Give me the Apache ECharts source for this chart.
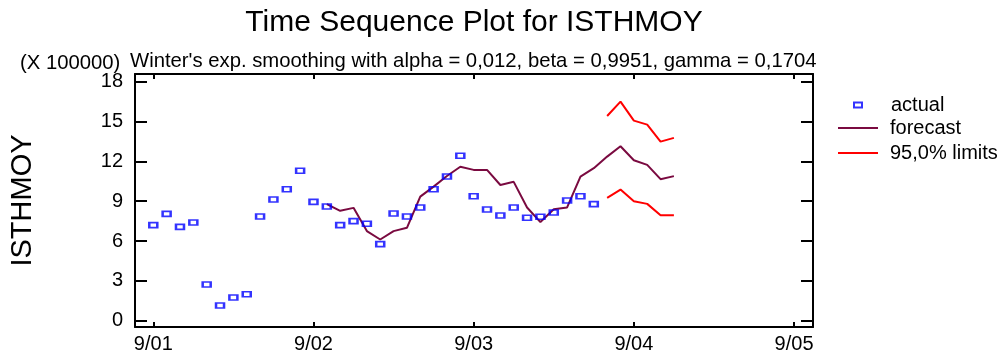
<!DOCTYPE html>
<html>
<head>
<meta charset="utf-8">
<title>Time Sequence Plot for ISTHMOY</title>
<script src="https://cdn.jsdelivr.net/npm/echarts@6/dist/echarts.min.js"></script>
<style>
  html, body { margin: 0; padding: 0; background: #fff; }
  #chart { width: 1002px; height: 355px; }
</style>
</head>
<body>
<div id="chart"></div>
<script>
// Monthly observations (units of 100000), month index 0 = 9/01
const actualValues = [7.2, 8.05, 7.07, 7.4, 2.73, 1.15, 1.75, 2.0, 7.85, 9.13, 9.9, 11.3,
  8.95, 8.6, 7.2, 7.5, 7.3, 5.77, 8.07, 7.85, 8.53, 9.9, 10.86, 12.42,
  9.38, 8.38, 7.92, 8.53, 7.75, 7.83, 8.15, 9.05, 9.38, 8.78];

// One-step fitted values followed by the out-of-sample forecasts
const forecastStart = 13;
const forecastValues = [8.78, 8.28, 8.5, 6.75, 6.12, 6.75, 7.0, 9.35, 10.1, 10.9, 11.6,
  11.36, 11.36, 10.22, 10.46, 8.53, 7.43, 8.4, 8.53, 10.86, 11.49,
  12.36, 13.14, 12.09, 11.74, 10.66, 10.89];

// 95% prediction limits for the forecast horizon
const limitStart = 34;
const upperLimits = [15.42, 16.5, 15.07, 14.77, 13.49, 13.77];
const lowerLimits = [9.25, 9.88, 9.0, 8.8, 7.95, 7.95];

// Axis ticks
const xTickValues = [0, 12, 24, 36, 48];
const xTickLabels = ['9/01', '9/02', '9/03', '9/04', '9/05'];
const yTickValues = [0, 3, 6, 9, 12, 15, 18];
const yTickLabels = ['0', '3', '6', '9', '12', '15', '18'];

const FONT = 'Liberation Sans, Arial, sans-serif';
const INK = '#000';
const FORECAST_COLOR = '#7a0a40';
const LIMIT_COLOR = '#ff0000';
const ACTUAL_COLOR = '#0000ff';

function toPairs(values, start) {
  return values.map((v, i) => [start + i, v]);
}

const X_MIN = -1.37, X_MAX = 49.42;
const Y_MIN = -0.47, Y_MAX = 18.58;

function frameAxis(extra) {
  return Object.assign({
    type: 'value',
    axisLine: { show: true, onZero: false, lineStyle: { color: INK, width: 2 } },
    splitLine: { show: false }
  }, extra);
}

function titleText(text, left, top, size, extra) {
  return Object.assign({
    text, left, top, padding: 0,
    textStyle: { fontFamily: FONT, fontSize: size, fontWeight: 'normal', color: INK }
  }, extra || {});
}

const chart = echarts.init(document.getElementById('chart'), null, { renderer: 'canvas' });

chart.setOption({
  animation: false,
  backgroundColor: '#fff',
  textStyle: { fontFamily: FONT },
  title: [
    titleText('Time Sequence Plot for ISTHMOY', 474, 8, 30, { textAlign: 'center' }),
    titleText("Winter's exp. smoothing with alpha = 0,012, beta = 0,9951, gamma = 0,1704", 130, 51, 20.3),
    titleText('(X 100000)', 20, 53, 20.3)
  ],
  legend: [
    {
      orient: 'vertical',
      left: 853, top: 95, padding: 0,
      itemWidth: 8, itemHeight: 5,
      data: ['actual'],
      textStyle: { fontFamily: FONT, fontSize: 20, color: INK, padding: [0, 0, 0, 24] }
    },
    {
      orient: 'vertical',
      left: 838, top: 118, padding: 0,
      itemWidth: 40, itemHeight: 2, itemGap: 5,
      data: [
        { name: 'forecast', icon: 'rect' },
        { name: '95,0% limits', icon: 'rect' }
      ],
      textStyle: { fontFamily: FONT, fontSize: 20, color: INK, padding: [0, 0, 0, 7] }
    }
  ],
  grid: { left: 135, right: 189, top: 74, bottom: 28, containLabel: false },
  xAxis: [
    frameAxis({
      position: 'bottom', min: X_MIN, max: X_MAX,
      axisTick: { show: true, inside: true, length: 5, customValues: xTickValues,
        lineStyle: { color: INK, width: 2 } },
      axisLabel: {
        show: true, customValues: xTickValues, margin: 7,
        fontFamily: FONT, fontSize: 20, color: INK,
        formatter: v => xTickLabels[xTickValues.indexOf(v)]
      }
    }),
    frameAxis({
      position: 'top', min: X_MIN, max: X_MAX,
      axisTick: { show: true, inside: true, length: 5, customValues: xTickValues,
        lineStyle: { color: INK, width: 2 } },
      axisLabel: { show: false }
    })
  ],
  yAxis: [
    frameAxis({
      position: 'left', min: Y_MIN, max: Y_MAX,
      name: 'ISTHMOY', nameLocation: 'middle', nameRotate: 90, nameGap: 98,
      nameTextStyle: { fontFamily: FONT, fontSize: 29, color: INK },
      axisTick: { show: true, inside: true, length: 12, customValues: yTickValues,
        lineStyle: { color: INK, width: 2 } },
      axisLabel: {
        show: true, customValues: yTickValues, margin: 12,
        fontFamily: FONT, fontSize: 20, color: INK,
        formatter: v => yTickLabels[yTickValues.indexOf(v)]
      }
    }),
    frameAxis({
      position: 'right', min: Y_MIN, max: Y_MAX,
      axisTick: { show: true, inside: true, length: 12, customValues: yTickValues,
        lineStyle: { color: INK, width: 2 } },
      axisLabel: { show: false }
    })
  ],
  series: [
    {
      name: 'forecast',
      type: 'line',
      symbol: 'none',
      data: toPairs(forecastValues, forecastStart),
      lineStyle: { color: FORECAST_COLOR, width: 2 },
      itemStyle: { color: FORECAST_COLOR },
      z: 2
    },
    {
      name: '95,0% limits',
      type: 'line',
      symbol: 'none',
      data: toPairs(upperLimits, limitStart),
      lineStyle: { color: LIMIT_COLOR, width: 2 },
      itemStyle: { color: LIMIT_COLOR },
      z: 2
    },
    {
      name: '95,0% limits',
      type: 'line',
      symbol: 'none',
      data: toPairs(lowerLimits, limitStart),
      lineStyle: { color: LIMIT_COLOR, width: 2 },
      itemStyle: { color: LIMIT_COLOR },
      z: 2
    },
    {
      name: 'actual',
      type: 'scatter',
      symbol: 'rect',
      symbolSize: [8, 5],
      data: toPairs(actualValues, 0),
      itemStyle: { color: 'rgba(255,255,255,0)', borderColor: ACTUAL_COLOR, borderWidth: 2 },
      z: 3
    }
  ]
});
</script>
</body>
</html>
